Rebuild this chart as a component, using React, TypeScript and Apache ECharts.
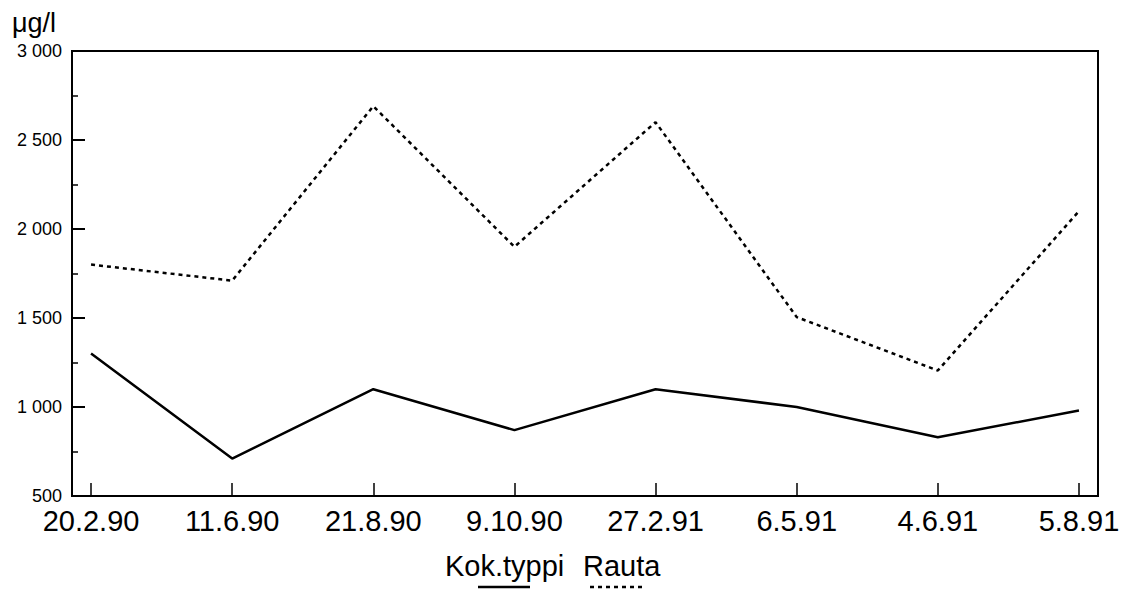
import React, { useEffect, useRef } from "react";
import * as echarts from "echarts";

const categories = ["20.2.90", "11.6.90", "21.8.90", "9.10.90", "27.2.91", "6.5.91", "4.6.91", "5.8.91"];
const kokTyppi = [1300, 710, 1100, 870, 1100, 1000, 830, 980];
const rauta = [1800, 1710, 2690, 1900, 2600, 1505, 1205, 2100];
const legendNames = ["Kok.typpi", "Rauta"];
const unitLabel = "μg/l";

const FONT = "Liberation Sans, Arial, sans-serif";

export default function App() {
  const ref = useRef<HTMLDivElement>(null);
  useEffect(() => {
    document.body.style.margin = "0";
    const chart = echarts.init(ref.current!, null, { renderer: "svg" });
    const idx = categories.map((_, i) => i);
    chart.setOption({
      animation: false,
      backgroundColor: "#ffffff",
      grid: {
        left: 72,
        right: 29,
        top: 51,
        bottom: 93,
        show: true,
        borderColor: "#000",
        borderWidth: 2,
        containLabel: false,
      },
      xAxis: {
        type: "value",
        min: -0.135,
        max: 7.135,
        splitLine: { show: false },
        axisLine: { show: true, onZero: false, lineStyle: { color: "#000", width: 2 } },
        axisTick: {
          show: true,
          inside: true,
          length: 13,
          customValues: idx,
          lineStyle: { color: "#000", width: 1.5 },
        },
        axisLabel: {
          customValues: idx,
          formatter: (v: number) => categories[Math.round(v)],
          color: "#000",
          fontFamily: FONT,
          fontSize: 29,
          lineHeight: 20,
          margin: 15,
        },
      },
      yAxis: [
        {
          type: "value",
          position: "left",
          min: 500,
          max: 3000,
          interval: 500,
          splitLine: { show: false },
          axisLine: { show: true, onZero: false, lineStyle: { color: "#000", width: 2 } },
          axisTick: {
            show: true,
            inside: true,
            length: 13,
            lineStyle: { color: "#000", width: 2 },
          },
          axisLabel: {
            formatter: (v: number) => String(v).replace(/\B(?=(\d{3})+(?!\d))/g, " "),
            color: "#000",
            fontFamily: FONT,
            fontSize: 18,
            lineHeight: 14,
            margin: 10,
          },
        },
        {
          type: "value",
          position: "left",
          offset: 0,
          min: 500,
          max: 3000,
          interval: 250,
          splitLine: { show: false },
          axisLine: { show: false, onZero: false },
          axisTick: {
            show: true,
            inside: true,
            length: 6,
            lineStyle: { color: "#000", width: 1.5 },
          },
          axisLabel: { show: false },
        },
      ],
      series: [
        {
          name: legendNames[0],
          type: "line",
          data: kokTyppi.map((v, i) => [i, v]),
          showSymbol: false,
          lineStyle: { color: "#000", width: 2.5, type: "solid" },
        },
        {
          name: legendNames[1],
          type: "line",
          data: rauta.map((v, i) => [i, v]),
          showSymbol: false,
          lineStyle: { color: "#000", width: 2.5, type: [4, 4] },
        },
      ],
      graphic: [
        {
          type: "text",
          left: 12,
          top: 9,
          style: { text: unitLabel, fill: "#000", font: `27px ${FONT}` },
        },
        {
          type: "text",
          x: 445,
          y: 580,
          style: { text: legendNames[0], fill: "#000", font: `29px ${FONT}`, textVerticalAlign: "bottom" },
        },
        {
          type: "text",
          x: 583,
          y: 580,
          style: { text: legendNames[1], fill: "#000", font: `29px ${FONT}`, textVerticalAlign: "bottom" },
        },
        {
          type: "line",
          shape: { x1: 478, y1: 587, x2: 530, y2: 587 },
          style: { stroke: "#000", lineWidth: 2.5 },
        },
        {
          type: "line",
          shape: { x1: 590, y1: 587, x2: 643, y2: 587 },
          style: { stroke: "#000", lineWidth: 2.5, lineDash: [4, 4] },
        },
      ],
    });
    return () => chart.dispose();
  }, []);
  return <div ref={ref} style={{ width: 1127, height: 589 }} />;
}
